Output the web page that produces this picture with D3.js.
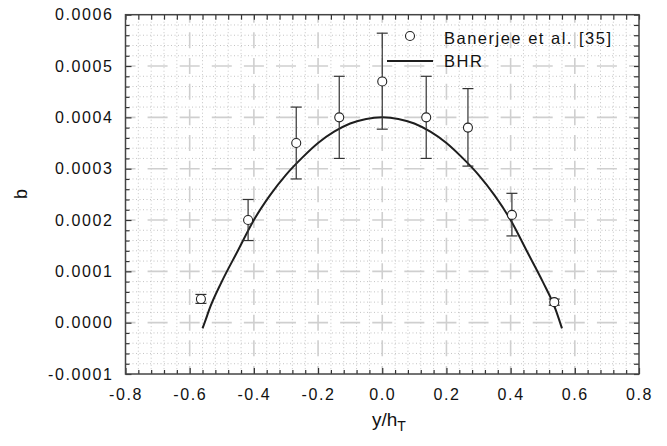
<!DOCTYPE html>
<html><head><meta charset="utf-8">
<script src="https://cdn.jsdelivr.net/npm/d3@7"></script>
<style>
body{margin:0;background:#fff;}
text{font-family:"Liberation Sans",Arial,sans-serif;fill:#111;}
</style></head>
<body>
<svg id="c" width="667" height="446"></svg>
<script>
// ---- data ----
const expX = [-0.565, -0.418, -0.268, -0.134, 0.0, 0.137, 0.267, 0.404, 0.536];
const expB = [0.000046, 0.0002, 0.00035, 0.0004, 0.00047, 0.0004, 0.00038, 0.00021, 0.00004];
const expHi = [0.000055, 0.00024, 0.00042, 0.00048, 0.000564, 0.00048, 0.000456, 0.000252, 0.000046];
const expLo = [0.0000375, 0.00016, 0.00028, 0.00032, 0.000377, 0.00032, 0.000305, 0.000169, 0.000034];
const bhrX = [-0.56, -0.55, -0.54, -0.5, -0.45, -0.4, -0.35, -0.3, -0.25, -0.2, -0.15, -0.1, -0.05, 0,
              0.05, 0.1, 0.15, 0.2, 0.25, 0.3, 0.35, 0.4, 0.45, 0.5, 0.54, 0.55, 0.56];
const bhrB = [-0.000011, 0.000006, 0.000024, 0.00008, 0.00014, 0.0002, 0.000248, 0.000288, 0.000321, 0.00035, 0.000372, 0.000388, 0.000397, 0.0004,
              0.000397, 0.000388, 0.000372, 0.00035, 0.000321, 0.000288, 0.000248, 0.0002, 0.00014, 0.00008, 0.000026, 0.000008, -0.000011];
const xTicks = [-0.8, -0.6, -0.4, -0.2, 0.0, 0.2, 0.4, 0.6, 0.8];
const yTicks = [-0.0001, 0.0, 0.0001, 0.0002, 0.0003, 0.0004, 0.0005, 0.0006];
const legendLabels = ["Banerjee et al. [35]", "BHR"];

// ---- layout ----
const L = 125.5, R = 639, T = 14.7, B = 374;
const svg = d3.select("#c");
const x = d3.scaleLinear().domain([-0.8, 0.8]).range([L, R]);
const y = d3.scaleLinear().domain([-0.0001, 0.0006]).range([B, T]);

const xMinor = d3.range(0, 41).map(i => -0.8 + i * 0.04).filter(v => Math.abs(Math.round(v / 0.2) * 0.2 - v) > 1e-6);
const yMinor = d3.range(0, 36).map(i => -0.0001 + i * 0.00002).filter(v => Math.abs(Math.round(v / 0.0001) * 0.0001 - v) > 1e-9);

// minor dotted grid
const g = svg.append("g");
g.selectAll(".mvx").data(xMinor).join("line")
  .attr("x1", d => x(d)).attr("x2", d => x(d)).attr("y1", T).attr("y2", B)
  .attr("stroke", "#c4c4c4").attr("stroke-width", 1).attr("stroke-dasharray", "1,2.5");
g.selectAll(".mhy").data(yMinor).join("line")
  .attr("y1", d => y(d)).attr("y2", d => y(d)).attr("x1", L).attr("x2", R)
  .attr("stroke", "#c4c4c4").attr("stroke-width", 1).attr("stroke-dasharray", "1,2.5");

// major dashed grid
const pv = (y(0) - y(0.0001)) / 2, dv = 16;
const ph = (x(0.2) - x(0)) / 2, dh = 20;
g.selectAll(".gvx").data(xTicks.slice(1, -1)).join("line")
  .attr("x1", d => x(d)).attr("x2", d => x(d)).attr("y1", B).attr("y2", T)
  .attr("stroke", "#cfcfcf").attr("stroke-width", 1.6)
  .attr("stroke-dasharray", dv + "," + (pv - dv)).attr("stroke-dashoffset", dv / 2);
g.selectAll(".ghy").data(yTicks.slice(1, -1)).join("line")
  .attr("y1", d => y(d)).attr("y2", d => y(d)).attr("x1", L).attr("x2", R)
  .attr("stroke", "#cfcfcf").attr("stroke-width", 1.6)
  .attr("stroke-dasharray", dh + "," + (ph - dh)).attr("stroke-dashoffset", dh / 2);

// axes
function styleAxis(sel) {
  sel.select(".domain").remove();
  sel.selectAll(".tick line").attr("stroke", "#333").attr("stroke-width", 1.2);
  sel.selectAll("text").style("font-size", "16px").style("letter-spacing", "1.6px")
    .style("font-family", "'Liberation Sans', Arial, sans-serif").attr("fill", "#111");
}
svg.append("g").attr("transform", `translate(0,${B})`)
  .call(d3.axisBottom(x).tickValues(xTicks).tickSizeInner(-6).tickSizeOuter(0).tickPadding(15).tickFormat(d => d.toFixed(1)))
  .call(styleAxis);
svg.append("g").attr("transform", `translate(0,${B})`)
  .call(d3.axisBottom(x).tickValues(xMinor).tickSizeInner(-4).tickSizeOuter(0).tickFormat(""))
  .call(styleAxis);
svg.append("g").attr("transform", `translate(0,${T})`)
  .call(d3.axisTop(x).tickValues(xTicks.concat(xMinor)).tickSizeInner(-5).tickSizeOuter(0).tickFormat(""))
  .call(styleAxis);
svg.append("g").attr("transform", `translate(${L},0)`)
  .call(d3.axisLeft(y).tickValues(yTicks).tickSizeInner(-6).tickSizeOuter(0).tickPadding(12).tickFormat(d => d.toFixed(4)))
  .call(styleAxis);
svg.append("g").attr("transform", `translate(${L},0)`)
  .call(d3.axisLeft(y).tickValues(yMinor).tickSizeInner(-4).tickSizeOuter(0).tickFormat(""))
  .call(styleAxis);
svg.append("g").attr("transform", `translate(${R},0)`)
  .call(d3.axisRight(y).tickValues(yTicks.concat(yMinor)).tickSizeInner(-5).tickSizeOuter(0).tickFormat(""))
  .call(styleAxis);

// frame
svg.append("rect").attr("x", L).attr("y", T).attr("width", R - L).attr("height", B - T)
  .attr("fill", "none").attr("stroke", "#444").attr("stroke-width", 1.5);

// BHR curve
svg.append("path").datum(bhrX.map((v, i) => [v, bhrB[i]]))
  .attr("d", d3.line().x(d => x(d[0])).y(d => y(d[1])).curve(d3.curveMonotoneX))
  .attr("fill", "none").attr("stroke", "#1e1e1e").attr("stroke-width", 2);

// error bars
const eb = svg.append("g").attr("stroke", "#333").attr("stroke-width", 1.2);
expX.forEach((v, i) => {
  const cx = x(v);
  eb.append("line").attr("x1", cx).attr("x2", cx).attr("y1", y(expLo[i])).attr("y2", y(expHi[i]));
  eb.append("line").attr("x1", cx - 5.5).attr("x2", cx + 5.5).attr("y1", y(expLo[i])).attr("y2", y(expLo[i]));
  eb.append("line").attr("x1", cx - 5.5).attr("x2", cx + 5.5).attr("y1", y(expHi[i])).attr("y2", y(expHi[i]));
});
svg.append("g").selectAll("circle").data(expX).join("circle")
  .attr("cx", d => x(d)).attr("cy", (d, i) => y(expB[i])).attr("r", 4.5)
  .attr("fill", "#fff").attr("stroke", "#222").attr("stroke-width", 1.1);

// legend
svg.append("circle").attr("cx", 410).attr("cy", 36).attr("r", 4.5)
  .attr("fill", "#fff").attr("stroke", "#222").attr("stroke-width", 1.1);
svg.append("line").attr("x1", 387).attr("x2", 433).attr("y1", 61).attr("y2", 61)
  .attr("stroke", "#1e1e1e").attr("stroke-width", 2);
svg.append("text").attr("x", 444).attr("y", 44).text(legendLabels[0])
  .style("font-size", "16.5px").style("letter-spacing", "1.5px");
svg.append("text").attr("x", 444).attr("y", 67).text(legendLabels[1])
  .style("font-size", "16.5px").style("letter-spacing", "1.5px");

// axis titles
svg.append("text").attr("transform", "translate(27,194) rotate(-90)").attr("text-anchor", "middle")
  .style("font-size", "18px").text("b");
const xt = svg.append("text").attr("x", 372).attr("y", 426).style("font-size", "19px");
xt.append("tspan").text("y/h");
xt.append("tspan").attr("dy", 5).style("font-size", "14px").text("T");
</script>
</body></html>
